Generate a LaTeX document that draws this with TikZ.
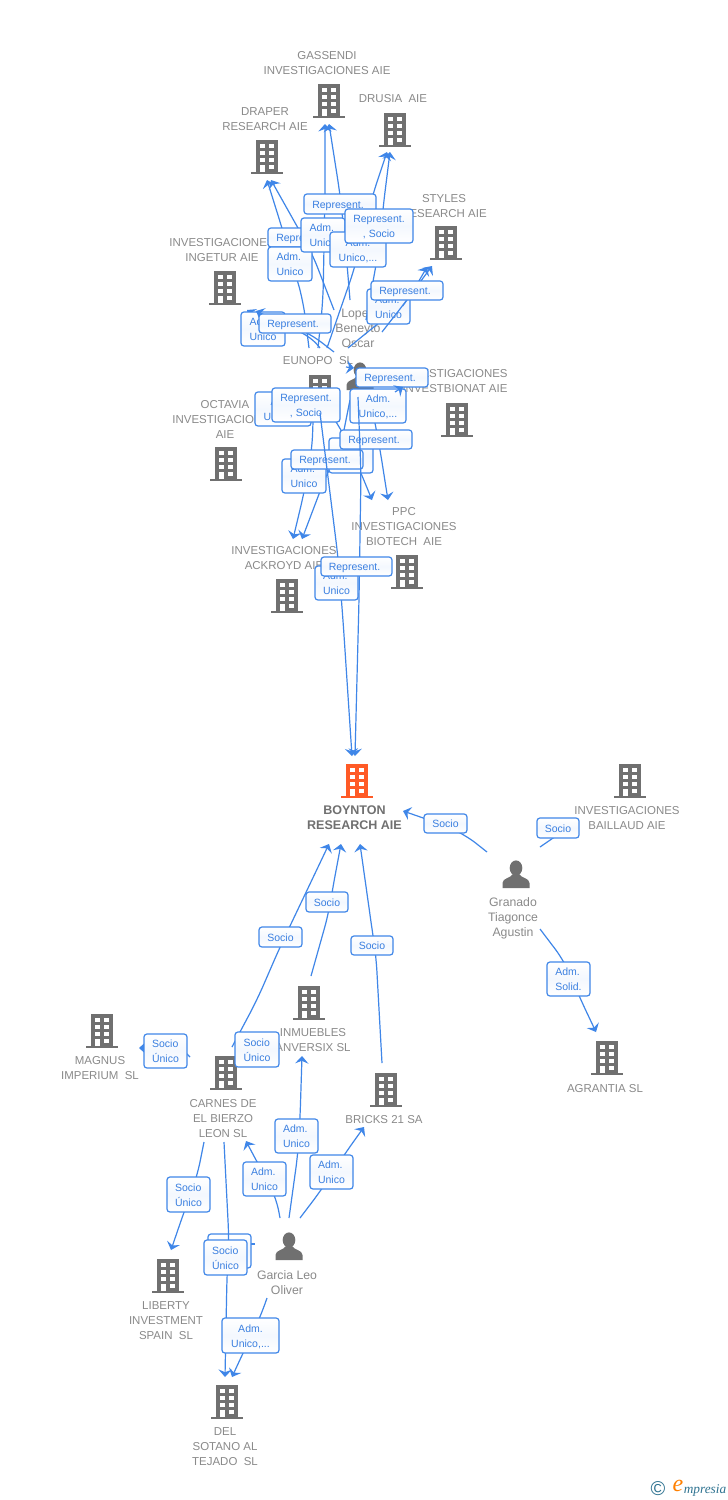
\documentclass[tikz,border=0pt]{standalone}
\usepackage{fontspec}
\setmainfont{Liberation Sans}
\newfontfamily\serifit{Liberation Serif}
\usetikzlibrary{arrows.meta}
\definecolor{lnk}{HTML}{3F86E8}
\definecolor{lnktxt}{HTML}{3A7FE0}
\definecolor{grytxt}{HTML}{8A8A8A}
\definecolor{icon}{HTML}{707070}
\definecolor{hot}{HTML}{FF5A26}
\definecolor{teal}{HTML}{2F7391}
\tikzset{
  link/.style={draw=lnk,line width=.9pt,rounded corners=12pt},
  stub/.style={draw=lnk,line width=.9pt},
  tip/.style={-{Stealth[length=5.6pt,width=10pt,inset=2pt,color=lnk]}},
  namelabel/.style={text=grytxt,align=center,inner sep=0pt,yshift=-.75pt,font=\fontsize{8.6}{11.25}\selectfont},
  personlabel/.style={text=grytxt,align=center,inner sep=0pt,yshift=-.75pt,font=\fontsize{9.2}{11.25}\selectfont},
  hotlabel/.style={text=icon,align=center,inner sep=0pt,font=\bfseries\fontsize{9.4}{11.25}\selectfont},
  linkbox/.style={draw=lnk,line width=.9pt,rounded corners=2.2pt,top color=white,bottom color=white,middle color=white!94!lnk,inner sep=0pt,text=lnktxt,font=\fontsize{7.875}{11.25}\selectfont},
  iconnode/.style={inner sep=0pt,minimum width=24pt,minimum height=25.5pt},
}
\newcommand\repr{Represent.\hspace*{3pt}}
% building icon
\newcommand\bldg[4][icon]{%
  \node[iconnode] (#2) at (#3,#4) {};
  \begin{scope}[shift={(#3,#4)}]
    \fill[#1] (-11,-17) rectangle (11,15);
    \fill[#1] (-16,15) rectangle (16,17);
    \foreach \wx in {-7,2}{\foreach \wy in {-13,-6,1}{\fill[white] (\wx,\wy) rectangle +(5,4);}}
    \fill[white] (-7,8) rectangle (-2,15);
    \fill[white] (2,8) rectangle (7,12);
  \end{scope}}
% person icon
\newcommand\persona[3]{%
  \node[iconnode] (#1) at (#2,#3) {};
  \begin{scope}[shift={(#2,#3)}]
    \fill[icon] (0,-6) ellipse (6.3 and 7.6);
    \fill[icon] (-13.5,14) -- (-13.5,9) .. controls (-13.5,4) and (-5,4) .. (-3,0) -- (3,0) .. controls (5,4) and (13.5,4) .. (13.5,9) -- (13.5,14) -- cycle;
  \end{scope}}
% connector: id, start, enter label, leave label, end
\newcommand\cn[5]{%
  \coordinate (#1-s) at (#2);\coordinate (#1-a) at (#3);\coordinate (#1-b) at (#4);\coordinate (#1-e) at (#5);
  \draw[link,tip] (#1-s) -- (#1-a) -- (#1-b) -- (#1-e);}
% short straight pieces between two named points
\newcommand\stubtip[3]{%
  \coordinate (#1-s) at (#2);\coordinate (#1-e) at (#3);
  \draw[stub,tip] (#1-s) -- (#1-e);}
\newcommand\stubline[3]{%
  \coordinate (#1-s) at (#2);\coordinate (#1-e) at (#3);
  \draw[stub] (#1-s) -- (#1-e);}
% label box: name,x1,y1,x2,y2,align(l/c),text
\newcommand\lb[7]{%
  \pgfmathsetmacro\bcx{(#2+#4)/2}\pgfmathsetmacro\bcy{(#3+#5)/2}%
  \pgfmathsetmacro\bw{(#4-#2)*.75}\pgfmathsetmacro\bh{(#5-#3)*.75}%
  \node[linkbox,minimum width=\bw pt,minimum height=\bh pt] (#1) at (\bcx,\bcy) {\raisebox{-.8pt}[\height][\depth]{\begin{tabular}{@{}#6@{}}#7\end{tabular}}};}
\begin{document}
\begin{tikzpicture}[x=.75pt,y=-.75pt]
\useasboundingbox (0,0) rectangle (728,1500);
\fill[white] (0,0) rectangle (728,1500);
% ---- buildings
\bldg{gassendi}{329}{101}
\bldg{drusia}{395}{130}
\bldg{draper}{267}{157}
\bldg{styles}{446}{243}
\bldg{ingetur}{225}{288}
\bldg{eunopo}{320}{392}
\bldg{investbionat}{457}{420}
\bldg{octavia}{226}{464}
\bldg{ppc}{407}{572}
\bldg{ackroyd}{287}{596}
\bldg[hot]{boynton}{357}{781}
\bldg{baillaud}{630}{781}
\bldg{agrantia}{607}{1058}
\bldg{inmuebles}{309}{1003}
\bldg{bricks}{386}{1090}
\bldg{magnus}{102}{1031}
\bldg{carnes}{226}{1073}
\bldg{liberty}{168}{1276}
\bldg{sotano}{227}{1402}
\persona{lopez}{360}{376}
\persona{granado}{516}{874}
\persona{garcia}{289}{1246}
% ---- names
\node[namelabel] (tgassendi) at (327,62.5) {GASSENDI\\INVESTIGACIONES AIE};
\node[namelabel] (tdrusia) at (393,98) {DRUSIA\ \ AIE};
\node[namelabel] (tdraper) at (265,118.5) {DRAPER\\RESEARCH AIE};
\node[namelabel] (tstyles) at (444,205.5) {STYLES\\RESEARCH AIE};
\node[namelabel] (tingetur) at (222,249.5) {INVESTIGACIONES\\INGETUR AIE};
\node[personlabel] (tlopez) at (358,327) {Lopez\\Beneyto\\Oscar};
\node[namelabel] (teunopo) at (318,360) {EUNOPO\ \ SL};
\node[namelabel] (tinvestbionat) at (455,380.5) {INVESTIGACIONES\\INVESTBIONAT AIE};
\node[namelabel] (toctavia) at (225,418) {OCTAVIA\\INVESTIGACIONES\\AIE};
\node[namelabel] (tppc) at (404,526) {PPC\\INVESTIGACIONES\\BIOTECH\ \ AIE};
\node[namelabel] (tackroyd) at (284,557.5) {INVESTIGACIONES\\ACKROYD AIE};
\node[hotlabel] (tboynton) at (354.5,817.5) {BOYNTON\\RESEARCH AIE};
\node[namelabel] (tbaillaud) at (627,817.5) {INVESTIGACIONES\\BAILLAUD AIE};
\node[personlabel] (tgranado) at (513,917) {Granado\\Tiagonce\\Agustin};
\node[namelabel] (tagrantia) at (605,1088) {AGRANTIA SL};
\node[namelabel] (tinmuebles) at (313,1039.5) {INMUEBLES\\ANVERSIX SL};
\node[namelabel] (tbricks) at (384,1119) {BRICKS 21 SA};
\node[namelabel] (tmagnus) at (100,1067.5) {MAGNUS\\IMPERIUM\ \ SL};
\node[namelabel] (tcarnes) at (223,1118) {CARNES DE\\EL BIERZO\\LEON SL};
\node[personlabel] (tgarcia) at (287,1281.5) {Garcia Leo\\Oliver};
\node[namelabel] (tliberty) at (166,1320) {LIBERTY\\INVESTMENT\\SPAIN\ \ SL};
\node[namelabel] (tsotano) at (225,1446) {DEL\\SOTANO AL\\TEJADO\ \ SL};
% ---- upper cluster, lines
\cn{e}{334,310}{312,253}{298,228}{271,180}
\cn{f}{309,348}{303,300}{282,228}{267,180}
\cn{b}{318,348}{323,300}{325,194}{325,124}
\cn{a}{350,300}{345,240}{340,194}{329,124}
\cn{c}{327,348}{355,267}{372,197}{387,152}
\cn{d}{366,320}{380,243}{383,208}{390,152}
\cn{g}{348,348}{407,300}{412,293}{427,267}
% upper boxes
\lb{le}{268}{228}{340}{247}{c}{\repr}
\lb{lf}{268}{247}{312}{281}{l}{Adm.\\Unico}
\lb{lb}{301}{218}{345}{252}{l}{Adm.\\Unico}
\lb{la}{304}{194}{376}{214}{c}{\repr}
\lb{lc}{330}{232}{386}{267}{c}{Adm.\\Unico,...}
\lb{ld}{345}{209}{413}{243}{c}{Represent.\\, Socio}
\cn{i}{320,348}{308,333}{263,322}{247,310}
\lb{li}{241}{312}{285}{346}{l}{Adm.\\Unico}
\cn{j}{334,352}{308,332}{275,320}{256,311}
\lb{lj}{259}{314}{331}{333}{c}{\repr}
\lb{lg}{367}{289}{410}{324}{l}{Adm.\\Unico}
\cn{h}{382,332}{407,300}{412,293}{432,266}
\lb{lh}{371}{281}{443}{300}{c}{\repr}
% ---- lower cluster, lines
\stubtip{k}{346,367}{354,368}
\cn{r}{313,422}{312,450}{304,493}{293,539}
\cn{q}{350,400}{340,450}{327,473}{302,539}
\cn{p}{337,423}{342,430}{361,473}{372,500}
\cn{o}{375,423}{380,449}{384,475}{388,500}
\lb{lm}{255}{392}{311}{426}{c}{Adm.\\Unico,...}
\lb{ln}{272}{388}{340}{422}{c}{Represent.\\, Socio}
\lb{lp}{329}{438}{373}{473}{c}{}
\lb{lr}{282}{459}{326}{493}{l}{Adm.\\Unico}
\lb{lo}{340}{430}{412}{449}{c}{\repr}
\lb{lq}{291}{450}{363}{469}{c}{\repr}
\lb{ll}{350}{389}{406}{423}{c}{Adm.\\Unico,...}
\lb{lk}{356}{368}{428}{387}{c}{\repr}
\stubtip{kk}{395,392}{403,387}
% ---- to Boynton
\cn{t}{320,413}{338,557}{343,620}{352,756}
\lb{lt}{315}{566}{358}{600}{l}{Adm.\\Unico}
\cn{s}{358,397}{361,473}{359,600}{355,756}
\lb{ls}{321}{557}{392}{576}{c}{\repr}
% ---- right side
\cn{g1}{487,852}{463,833}{432,821}{403,811}
\lb{lg1}{424}{814}{467}{833}{c}{Socio}
\stubline{g2}{540,847}{556,836}
\lb{lg2}{537}{818}{579}{838}{c}{Socio}
\cn{g3}{540,929}{565,962}{579,996}{596,1032}
\lb{lg3}{547}{962}{590}{996}{l}{Adm.\\Solid.}
% ---- lower part
\cn{n1}{311,976}{329,912}{332,892}{341,844}
\lb{ln1}{306}{892}{348}{912}{c}{Socio}
\cn{n2}{382,1063}{376,955}{373,936}{360,844}
\lb{ln2}{351}{936}{393}{955}{c}{Socio}
\cn{n3}{232,1047}{257,1000}{280,947}{329,844}
\lb{ln3}{259}{927}{302}{947}{c}{Socio}
\stubline{n5}{190,1057}{184,1051}
\stubtip{n4}{146,1048}{139,1048}
\lb{ln4}{144}{1034}{187}{1068}{l}{Socio\\Único}
\lb{ln5}{235}{1032}{279}{1067}{l}{Socio\\Único}
\cn{c1}{204,1142}{197,1177}{184,1212}{171,1250}
\lb{lc1}{167}{1177}{210}{1212}{l}{Socio\\Único}
\stubline{h1}{251,1244}{255,1244}
\lb{lh1}{208}{1234}{251}{1268}{c}{}
\cn{c2}{224,1142}{229,1240}{227,1275}{225,1377}
\lb{lc2}{204}{1240}{247}{1275}{l}{Socio\\Único}
\cn{g4}{280,1218}{276,1196}{257,1162}{246,1141}
\lb{lg4}{243}{1162}{286}{1196}{l}{Adm.\\Unico}
\cn{g5}{289,1218}{298,1153}{300,1119}{302,1056}
\lb{lg5}{275}{1119}{318}{1153}{l}{Adm.\\Unico}
\cn{g6}{300,1218}{322,1189}{344,1155}{364,1127}
\lb{lg6}{310}{1155}{353}{1189}{l}{Adm.\\Unico}
\cn{g7}{267,1298}{260,1318}{243,1353}{232,1377}
\lb{lg7}{222}{1318}{279}{1353}{c}{Adm.\\Unico,...}
% ---- logo
\node[inner sep=0pt,text=teal,font=\fontsize{15}{15}\selectfont] (copyr) at (658,1489) {©};
\node[inner sep=0pt,text=orange,font=\serifit\itshape\fontsize{18}{18}\selectfont] (logoe) at (678,1486) {e};
\node[inner sep=0pt,text=teal,font=\serifit\itshape\fontsize{10}{12}\selectfont] (logot) at (705,1490) {mpresia};
\end{tikzpicture}
\end{document}
